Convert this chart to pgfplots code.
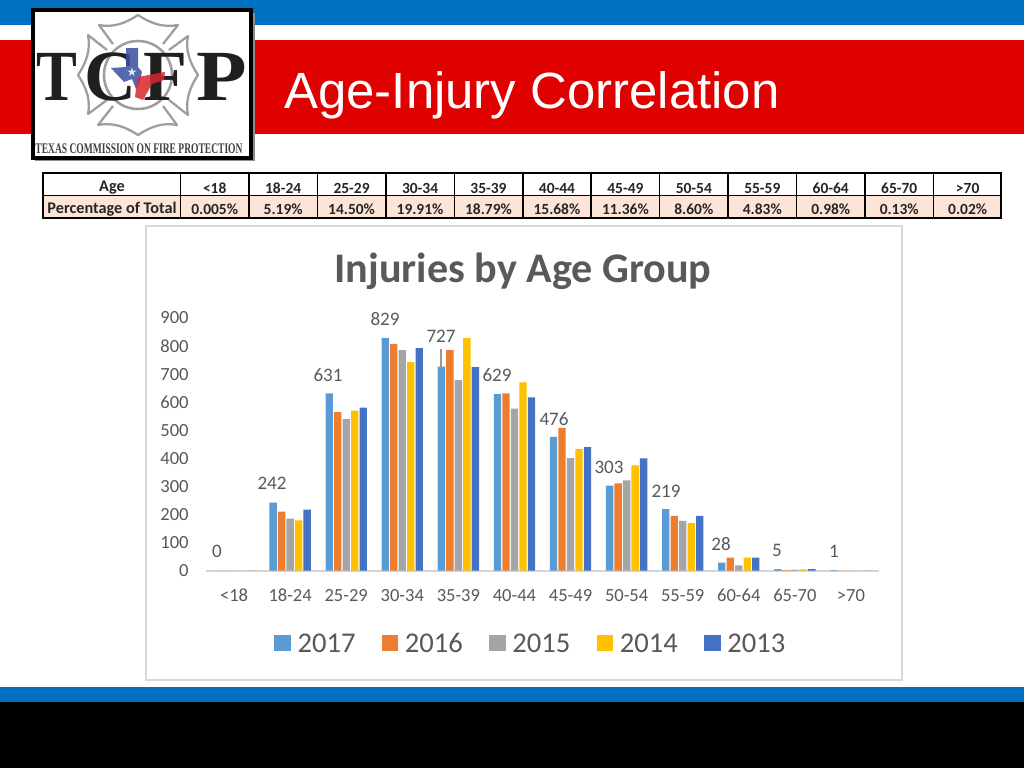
\documentclass[border=0pt]{standalone}
\usepackage{pgfplots}
\usepackage{pgfplotstable}
\usepackage{fontspec}
\pgfplotsset{compat=1.18}
\setmainfont{Carlito}
\newfontfamily\arialf{Liberation Sans}
\newfontfamily\serifb{Liberation Serif}
\newfontfamily\dejavu{DejaVu Sans}
\definecolor{topblue}{HTML}{0070C0}
\definecolor{slidered}{HTML}{DF0000}
\definecolor{peach}{HTML}{FCE4D6}
\definecolor{txt}{HTML}{595959}
\definecolor{c17}{HTML}{5B9BD5}
\definecolor{c16}{HTML}{ED7D31}
\definecolor{c15}{HTML}{A5A5A5}
\definecolor{c14}{HTML}{FFC000}
\definecolor{c13}{HTML}{4472C4}
\definecolor{txblue}{HTML}{3A4FA0}
\definecolor{txred}{HTML}{D8262C}
\pgfplotstableread{
i y2017 y2016 y2015 y2014 y2013
0 0 0 0 0 0
1 242 210 185 179 217
2 631 565 540 570 581
3 829 808 786 743 793
4 727 786 679 829 725
5 629 631 577 671 617
6 476 508 401 433 440
7 303 311 321 375 400
8 219 195 177 169 195
9 28 46 18 46 46
10 5 1 3 4 5
11 1 0 0 0 0
}\injuries
\begin{document}
\begin{tikzpicture}[x=0.75pt,y=-0.75pt]
\useasboundingbox (0,0) rectangle (1024,768);
% slide background
\fill[white] (0,0) rectangle (1024,768);
\fill[topblue] (0,0) rectangle (1024,25);
\fill[slidered] (0,40) rectangle (1024,134);
\fill[topblue] (0,687) rectangle (1024,702);
\fill[black] (0,702) rectangle (1024,768);
\node[anchor=west,text=white,inner sep=0pt,font=\arialf\fontsize{38.2}{46}\selectfont] at (284,95) {Age-Injury Correlation};
% logo
\fill[black!45] (35,13) rectangle (255,161);
\fill[white,draw=black,line width=2.6pt] (33,10) rectangle (251,158);
\begin{scope}[shift={(138,75)}]
\foreach \a in {0,90,180,270}{
\draw[rotate=\a,draw=black!38,line width=1.7pt,line join=round] (-25,-31) -- (-39,-50) .. controls (-25,-47) and (-12,-52) .. (0,-60) .. controls (12,-52) and (25,-47) .. (40,-50) -- (25,-31);
}
\draw[black!38,line width=1.9pt] (0,0) circle (34);
\end{scope}
\foreach \c/\xx/\sx in {T/57/0.85,C/110/1,F/165/1,P/222/1.15}{
\node[text=black!88,inner sep=0pt,font=\serifb\bfseries\fontsize{54}{54}\selectfont] at (\xx,77) {\scalebox{\sx}[1]{\c}};
}
\begin{scope}[shift={(138,75)},opacity=0.85]
\fill[txblue] (-12,-27) -- (0,-27) -- (0,-8) -- (4,-3) -- (2,6) -- (-2,14) -- (-6,4) -- (-14,7) -- (-27,-7) -- (-12,-8) -- cycle;
\fill[txred] (0,2) -- (27,-3) -- (26,5) -- (14,9) -- (5,25) -- (-3,22) -- (-2,14) -- cycle;
\node[white,inner sep=0pt,font=\dejavu\fontsize{9}{9}\selectfont] at (-6,-3) {★};
\end{scope}
\node[text=black!75,inner sep=0pt,font=\serifb\bfseries\fontsize{11}{11}\selectfont] at (139,149) {\scalebox{0.65}[1]{TEXAS COMMISSION ON FIRE PROTECTION}};
% table
\fill[peach] (43,195.5) rectangle (1001,218);
\draw[black,line width=1.2pt] (43,173) rectangle (1001,218);
\draw[black,line width=1.2pt] (43,195.5) -- (1001,195.5);
\foreach \k in {0,...,11}{
\draw[black,line width=1.2pt] ({180.5+68.45*\k},173) -- ({180.5+68.45*\k},218);
}
\node[inner sep=0pt,font=\bfseries\fontsize{12.2}{13}\selectfont,text=black!85] at (112,188) {Age};
\node[inner sep=0pt,font=\bfseries\fontsize{12.2}{13}\selectfont,text=black!85] at (112,209.5) {Percentage of Total};
\foreach \k/\a/\p in {0/{<18}/0.005\%,1/18-24/5.19\%,2/25-29/14.50\%,3/30-34/19.91\%,4/35-39/18.79\%,5/40-44/15.68\%,6/45-49/11.36\%,7/50-54/8.60\%,8/55-59/4.83\%,9/60-64/0.98\%,10/65-70/0.13\%,11/{>70}/0.02\%}{
\node[inner sep=0pt,font=\bfseries\fontsize{11.6}{13}\selectfont,text=black!85] at ({214.7+68.45*\k},188) {\a};
\node[inner sep=0pt,font=\bfseries\fontsize{11.6}{13}\selectfont,text=black!85] at ({214.7+68.45*\k},209.5) {\p};
}
% chart panel
\fill[white,draw=black!15,line width=0.8pt] (146,226) rectangle (902,680);
\node[inner sep=0pt,font=\bfseries\fontsize{31.6}{34}\selectfont,text=txt] at (523,271) {Injuries by Age Group};
\begin{axis}[
  at={(154.5pt,-427.875pt)},anchor=south west,
  scale only axis,width=504.75pt,height=189.375pt,
  ybar=0.875pt,bar width=5.5pt,
  xmin=-0.5,xmax=11.5,ymin=0,ymax=900,
  xtick=data,
  xticklabels={<18,18-24,25-29,30-34,35-39,40-44,45-49,50-54,55-59,60-64,65-70,>70},
  ytick={0,100,...,900},
  major tick length=0pt,
  axis x line=bottom,axis y line=left,
  x axis line style={-,draw=black!17,line width=1.5pt},
  y axis line style={draw=none},
  tick label style={font=\fontsize{13.9}{15}\selectfont,text=txt},
  /pgf/number format/assume math mode=true,
  xticklabel style={text height=9.5pt,text depth=0pt,yshift=-10.2pt},
  yticklabel style={xshift=-9.5pt},
  legend style={at={(0.483,-0.291)},anchor=center,draw=none,fill=none,legend columns=5,
    font=\fontsize{21.45}{24}\selectfont,text=txt,
    /tikz/every even column/.append style={column sep=17.6pt}},
  legend image code/.code={\path (0pt,0pt) -- (15.5pt,0pt);\fill[#1] (0pt,-5.5pt) rectangle (12.5pt,6.5pt);},
  legend cell align=left,
  clip=false,
]
\addplot[fill=c17,draw=none] table[x=i,y=y2017]{\injuries};
\addplot[fill=c16,draw=none] table[x=i,y=y2016]{\injuries};
\addplot[fill=c15,draw=none] table[x=i,y=y2015]{\injuries};
\addplot[fill=c14,draw=none] table[x=i,y=y2014]{\injuries};
\addplot[fill=c13,draw=none] table[x=i,y=y2013]{\injuries};
\legend{2017,2016,2015,2014,2013}
\end{axis}
% data labels
\foreach \v/\xx/\yy in {0/217/551,242/272/483,631/328/375,829/385/319,727/441/336,629/497/375,476/554/419,303/609/467,219/666/491,28/721/544,5/777/550,1/834/551}{
\node[inner sep=0pt,text=txt,font=\fontsize{14.3}{16}\selectfont] at (\xx,\yy) {\v};
}
\draw[black!40,line width=0.8pt] (441,349) -- (441,368);
\end{tikzpicture}
\end{document}
